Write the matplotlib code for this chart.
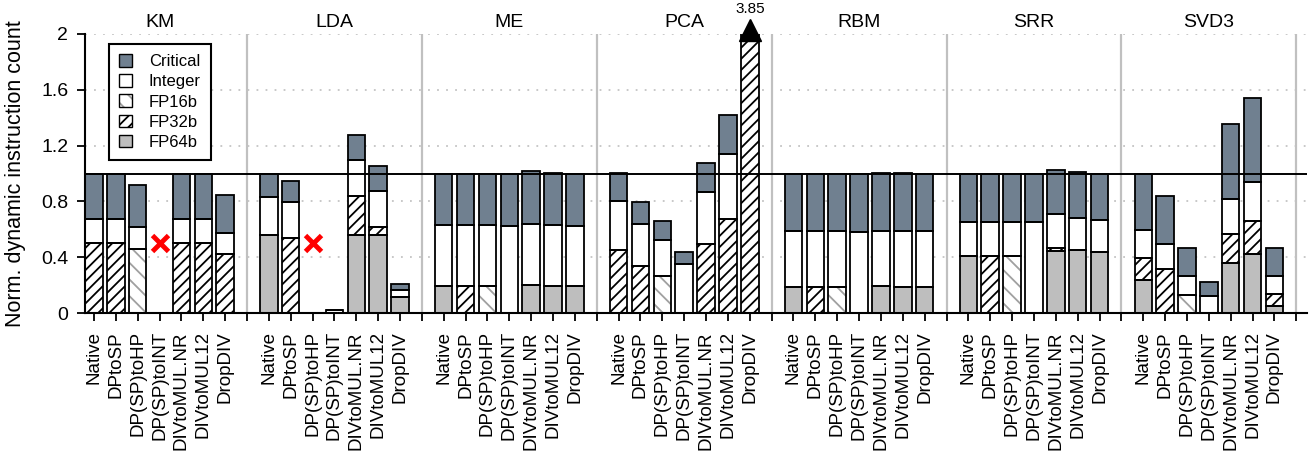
import numpy as np
import matplotlib
matplotlib.use("Agg")
import matplotlib.pyplot as plt
from matplotlib.patches import Patch
from matplotlib.colors import to_rgba
from matplotlib.transforms import blended_transform_factory

plt.rcParams['font.family'] = ['Liberation Sans', 'DejaVu Sans']
plt.rcParams['hatch.linewidth'] = 1.3

benchmarks = ["KM", "LDA", "ME", "PCA", "RBM", "SRR", "SVD3"]
variants = ["Native", "DPtoSP", "DP(SP)toHP", "DP(SP)toINT",
            "DIVtoMUL.NR", "DIVtoMUL12", "DropDIV"]

nan = np.nan
# segment heights, one row per benchmark, one column per variant
fp64 = [
    [0, 0, 0, nan, 0, 0, 0],
    [0.560, 0, nan, 0, 0.561, 0.561, 0.112],
    [0.191, 0, 0, 0, 0.203, 0.191, 0.191],
    [0, 0, 0, 0, 0, 0, 0],
    [0.186, 0, 0, 0, 0.191, 0.186, 0.186],
    [0.406, 0, 0, 0, 0.444, 0.449, 0.440],
    [0.234, 0, 0, 0, 0.358, 0.420, 0.052],
]
fp32 = [
    [0.504, 0.504, 0, nan, 0.504, 0.504, 0.423],
    [0, 0.535, nan, 0, 0.280, 0.058, 0],
    [0, 0.191, 0, 0, 0, 0, 0],
    [0.449, 0.339, 0, 0, 0.492, 0.676, 3.85],
    [0, 0.186, 0, 0, 0, 0, 0],
    [0, 0.406, 0, 0, 0.019, 0, 0],
    [0.158, 0.315, 0, 0, 0.210, 0.239, 0.081],
]
fp16 = [
    [0, 0, 0.456, nan, 0, 0, 0],
    [0, 0, nan, 0, 0, 0, 0],
    [0, 0, 0.191, 0, 0, 0, 0],
    [0, 0, 0.263, 0, 0, 0, 0],
    [0, 0, 0.186, 0, 0, 0, 0],
    [0, 0, 0.406, 0, 0, 0, 0],
    [0, 0, 0.129, 0, 0, 0, 0],
]
integer = [
    [0.168, 0.168, 0.163, nan, 0.168, 0.168, 0.148],
    [0.270, 0.258, nan, 0.020, 0.253, 0.258, 0.055],
    [0.442, 0.442, 0.442, 0.626, 0.437, 0.442, 0.435],
    [0.354, 0.296, 0.258, 0.354, 0.373, 0.466, 0],
    [0.399, 0.399, 0.399, 0.580, 0.394, 0.399, 0.399],
    [0.248, 0.248, 0.248, 0.654, 0.244, 0.234, 0.229],
    [0.200, 0.182, 0.134, 0.124, 0.249, 0.277, 0.130],
]
critical = [
    [0.328, 0.328, 0.301, nan, 0.328, 0.328, 0.277],
    [0.170, 0.153, nan, 0.005, 0.179, 0.179, 0.043],
    [0.367, 0.367, 0.367, 0.372, 0.375, 0.370, 0.372],
    [0.201, 0.163, 0.138, 0.086, 0.210, 0.277, 0],
    [0.415, 0.415, 0.415, 0.420, 0.418, 0.418, 0.415],
    [0.346, 0.346, 0.346, 0.346, 0.320, 0.325, 0.326],
    [0.408, 0.339, 0.205, 0.100, 0.540, 0.607, 0.201],
]
# (benchmark, variant) of missing results
missing = [("KM", "DP(SP)toINT"), ("LDA", "DP(SP)toHP")]
# clipped bar annotation
clipped = ("PCA", "DropDIV", "3.85")

components = [
    ("FP64b", fp64, "#bebebe", "", "#bebebe"),
    ("FP32b", fp32, "white", "///", "black"),
    ("FP16b", fp16, "white", "\\\\", "#a0a0a0"),
    ("Integer", integer, "white", "", "white"),
    ("Critical", critical, "#708090", "", "#708090"),
]

nb, nv = len(benchmarks), len(variants)
pos = np.array([[8 * g + i + 1 for i in range(nv)] for g in range(nb)], float)

fig = plt.figure(figsize=(13.11, 4.55), dpi=100)
ax = fig.add_axes([85 / 1311, 1 - 313 / 455, 1222 / 1311, 279 / 455])
ax.set_xlim(0.59, 56.49)
ax.set_ylim(0, 2)

# grid / separators
for yv in [0.4, 0.8, 1.2, 1.6, 2.0]:
    ax.axhline(yv, color="#c4c4c4", lw=1.3, ls=(0, (1, 4)), zorder=0)
for g in range(1, nb + 1):
    ax.axvline(8 * g, color="#c0c0c0", lw=1.6, zorder=0.5)

width = 0.8
x = pos.ravel()
bottom = np.zeros_like(x)
for name, vals, fc, hatch, hc in components:
    h = np.array(vals, float).ravel()
    hh = np.where(np.isnan(h), 0, h)
    mask = hh > 0
    ax.bar(x[mask], hh[mask], width, bottom=bottom[mask], color=fc,
           edgecolor=hc, hatch=hatch if hatch else None, linewidth=0, zorder=2)
    ax.bar(x[mask], hh[mask], width, bottom=bottom[mask], fill=False,
           edgecolor="black", linewidth=1.3, zorder=3)
    bottom = bottom + hh

ax.axhline(1.0, color="black", lw=1.4, zorder=4)

# missing markers
for b, v in missing:
    px = pos[benchmarks.index(b), variants.index(v)]
    ax.plot(px, 0.5, marker="x", color="red", markersize=12, mew=3.5,
            ls="none", zorder=5)

# clipped bar marker
cb, cv, ct = clipped
px = pos[benchmarks.index(cb), variants.index(cv)]
ax.plot(px, 2.03, marker="^", color="black", markersize=16, clip_on=False,
        zorder=6)
ax.annotate(ct, xy=(px, 2.0), xytext=(0, 13), textcoords="offset points",
            ha="center", va="bottom", fontsize=11, annotation_clip=False)

# group labels
trans = blended_transform_factory(ax.transData, ax.transAxes)
for g, b in enumerate(benchmarks):
    ax.annotate(b, xy=(8 * g + 4, 1.0), xycoords=trans, xytext=(0, 2),
                textcoords="offset points", ha="center", va="bottom",
                fontsize=14)

# ticks
xt = np.arange(1, 57)
labels = []
for t in xt:
    if t % 8 == 0:
        labels.append("")
    else:
        labels.append(variants[(t % 8) - 1])
ax.set_xticks(xt)
ax.set_xticklabels(labels, rotation=90, fontsize=13.5)
ax.tick_params(axis="x", direction="out", length=6, width=1.3, pad=7)
ax.set_yticks([0, 0.4, 0.8, 1.2, 1.6, 2.0])
ax.set_yticklabels(["0", "0.4", "0.8", "1.2", "1.6", "2"], fontsize=14)
ax.tick_params(axis="y", direction="out", length=6, width=1.3, pad=6)

for s in ["top", "right"]:
    ax.spines[s].set_visible(False)
for s in ["left", "bottom"]:
    ax.spines[s].set_linewidth(1.5)

ax.set_ylabel("Norm. dynamic instruction count", fontsize=15.5)
ax.yaxis.set_label_coords(-0.048, 0.5)

handles = [Patch(facecolor="#708090", edgecolor="black"),
           Patch(facecolor="white", edgecolor="black"),
           Patch(facecolor="white", edgecolor="#a0a0a0", hatch="\\\\"),
           Patch(facecolor="white", edgecolor="black", hatch="///"),
           Patch(facecolor="#bebebe", edgecolor="black")]
leg = ax.legend(handles=handles,
                labels=["Critical", "Integer", "FP16b", "FP32b", "FP64b"],
                loc="upper left",
                bbox_to_anchor=(0.0196, 0.964), borderaxespad=0,
                fontsize=12, handlelength=0.8, handleheight=0.8,
                handletextpad=1.0, labelspacing=0.3, borderpad=0.6,
                fancybox=False, framealpha=1, edgecolor="black")
leg.get_frame().set_linewidth(1.5)
leg.set_zorder(10)
h16 = leg.legend_handles[2]
h16.set_edgecolor("black")
h16._hatch_color = to_rgba("#a0a0a0")

fig.savefig("out.png", dpi=100)
